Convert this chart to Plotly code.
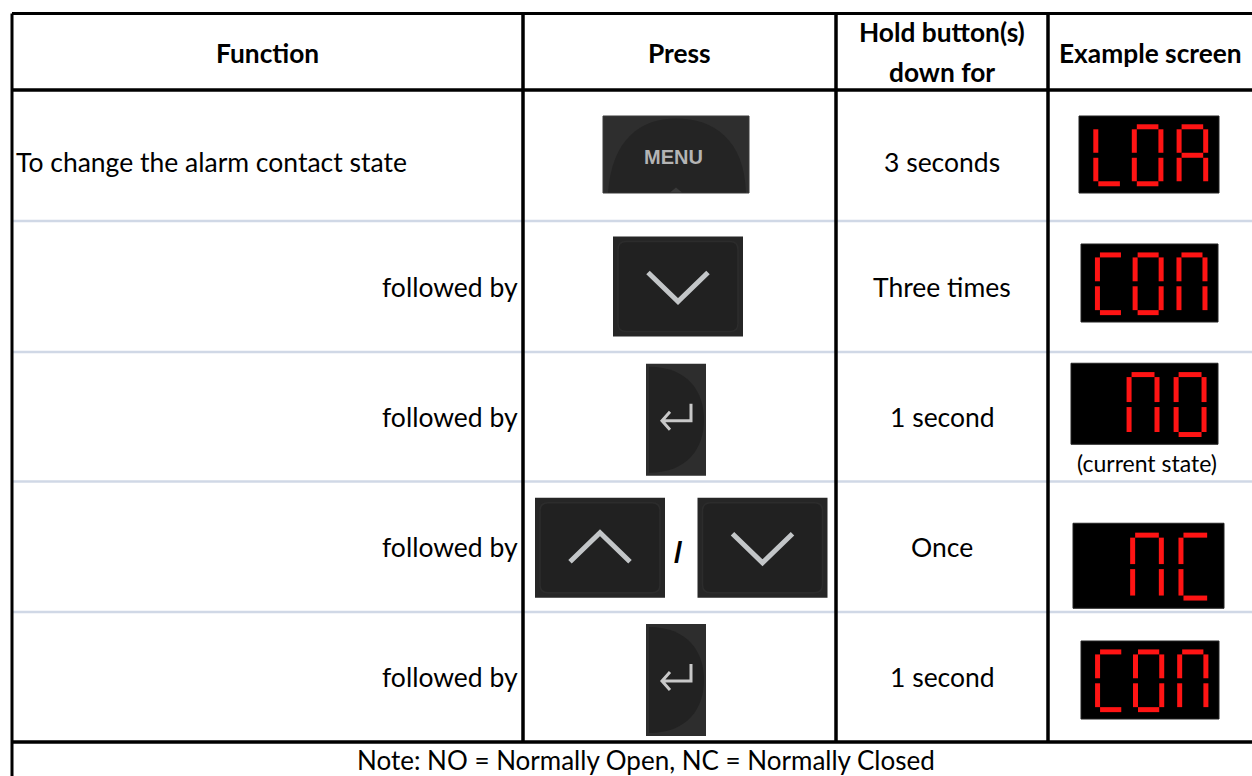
import plotly.graph_objects as go

# ---------------- table content ----------------
headers = ["Function", "Press", "Hold button(s)", "down for", "Example screen"]
functions = ["To change the alarm contact state", "followed by", "followed by",
             "followed by", "followed by"]
presses = ["MENU", "DOWN", "ENTER", "UP/DOWN", "ENTER"]
hold_times = ["3 seconds", "Three times", "1 second", "Once", "1 second"]
screens = ["LOA", "CON", " NO", " NC", "CON"]
screen_captions = ["", "", "(current state)", "", ""]
note = "Note: NO = Normally Open, NC = Normally Closed"

# ---------------- geometry / style ----------------
W, H = 1252, 776
col_edges = [12, 523, 836, 1048, 1264]
row_edges = [13.5, 90, 221, 352, 481.5, 612, 742]
FONT = "Lato"
FS = 26.5
HFS = 26.3
TEXT_DY = 0
ROW1_DY = 6

# screen box sizes (w, h) and centre offsets (dx, dy) per row
screen_boxes = [(140, 77, 1, -1), (137, 78, 1.5, -3.5), (147, 81, -3.5, -13),
                (151, 85, 0.5, 19), (138, 78, 2, 3)]

SEG = {'L': 'def', 'O': 'abcdef', 'A': 'abcefg', 'C': 'adef', 'N': 'abcef', ' ': ''}

shapes = []
annotations = []


def line(x0, y0, x1, y1, color="black", width=3):
    shapes.append(dict(type="line", xref="x", yref="y", x0=x0, y0=y0, x1=x1, y1=y1,
                       line=dict(color=color, width=width)))


def rect(x0, y0, x1, y1, fill, lc=None, lw=0):
    shapes.append(dict(type="rect", xref="x", yref="y", x0=x0, y0=y0, x1=x1, y1=y1,
                       fillcolor=fill, line=dict(color=lc or fill, width=lw)))


def path(d, fill, lc=None, lw=0):
    shapes.append(dict(type="path", xref="x", yref="y", path=d, fillcolor=fill,
                       line=dict(color=lc or fill, width=lw)))


def text(x, y, s, size=FS, bold=False, xanchor="center", family=FONT, color="black"):
    annotations.append(dict(x=x, y=y, xref="x", yref="y", text=f"<b>{s}</b>" if bold else s,
                            showarrow=False, xanchor=xanchor, yanchor="middle",
                            font=dict(family=family, size=size, color=color)))


def chevron(cx, cy, up):
    s = -1 if up else 1
    pts = [(cx - 30, cy - s * 14), (cx, cy + s * 15), (cx + 30, cy - s * 14)]
    d = f"M {pts[0][0]},{pts[0][1]} L {pts[1][0]},{pts[1][1]} L {pts[2][0]},{pts[2][1]}"
    shapes.append(dict(type="path", xref="x", yref="y", path=d,
                       line=dict(color="#c3c6c8", width=5)))


def arrow_button(cx, cy, up):
    rect(cx - 65, cy - 50, cx + 65, cy + 50, "#262626")
    x0, y0, x1, y1, r = cx - 60, cy - 45, cx + 60, cy + 45, 8
    d = (f"M {x0+r},{y0} L {x1-r},{y0} Q {x1},{y0} {x1},{y0+r} L {x1},{y1-r} "
         f"Q {x1},{y1} {x1-r},{y1} L {x0+r},{y1} Q {x0},{y1} {x0},{y1-r} "
         f"L {x0},{y0+r} Q {x0},{y0} {x0+r},{y0} Z")
    path(d, "#212121", "#2c2c2c", 1.5)
    chevron(cx, cy, up)


def enter_button(cx, cy):
    rect(cx - 30, cy - 56, cx + 30, cy + 56, "#2d2d2d")
    d = (f"M {cx-27},{cy-53} C {cx+12},{cy-53} {cx+28},{cy-28} {cx+28},{cy} "
         f"C {cx+28},{cy+28} {cx+12},{cy+53} {cx-27},{cy+53} Z")
    path(d, "#222222")
    d2 = (f"M {cx+15},{cy-16} L {cx+15},{cy+1} L {cx-14},{cy+1} "
          f"M {cx-6},{cy-8} L {cx-14},{cy+1} L {cx-6},{cy+10}")
    shapes.append(dict(type="path", xref="x", yref="y", path=d2,
                       line=dict(color="#c8c8c8", width=3)))


def menu_button(cx, cy):
    rect(cx - 73, cy - 38.5, cx + 73, cy + 38.5, "#2e2e2e", "#3a3a3a", 1)
    d = (f"M {cx-68},{cy+38} C {cx-64},{cy-15} {cx-36},{cy-36} {cx},{cy-36} "
         f"C {cx+38},{cy-36} {cx+68},{cy-15} {cx+70},{cy+38} Z")
    path(d, "#242424")
    path(f"M {cx-6},{cy+38} L {cx},{cy+33} L {cx+6},{cy+38} Z", "#3a3a3a")
    text(cx - 3, cy + 2, "<b>MENU</b>", size=20, family="Liberation Sans", color="#b4b4b4")


def seven_seg(x0, y0, w, h, chars):
    rect(x0, y0, x0 + w, y0 + h, "black", "#222222", 1)
    offs = [0.12, 0.395, 0.715]
    dw = 0.19 * w
    t, b = y0 + 0.14 * h, y0 + 0.88 * h
    m = (t + b) / 2
    g = 2.5
    for ch, o in zip(chars, offs):
        x = x0 + o * w
        segs = {
            'a': (x + g, t, x + dw - g, t), 'b': (x + dw, t + g, x + dw, m - g),
            'c': (x + dw, m + g, x + dw, b - g), 'd': (x + g, b, x + dw - g, b),
            'e': (x, m + g, x, b - g), 'f': (x, t + g, x, m - g),
            'g': (x + g, m, x + dw - g, m),
        }
        for s in SEG[ch]:
            line(*segs[s], color="#ff1414", width=5)


# ---------------- grid ----------------
left, right = col_edges[0], W
for y in row_edges[2:-1]:
    line(left, y, right, y, color="#d0d8e6", width=2.5)
line(left, row_edges[0], right, row_edges[0])
line(left, row_edges[1], right, row_edges[1], width=3.5)
line(left, row_edges[-1], right, row_edges[-1], width=3.5)
line(left, row_edges[0], left, H)
for x in col_edges[1:-1]:
    line(x, row_edges[0], x, row_edges[-1], width=3.5)

cx = [(col_edges[i] + col_edges[i + 1]) / 2 for i in range(4)]
hy = (row_edges[0] + row_edges[1]) / 2

# ---------------- header ----------------
text(cx[0], hy + 1, headers[0], size=HFS, bold=True)
text(cx[1], hy + 1, headers[1], size=HFS, bold=True)
text(cx[2], hy - 20, headers[2], size=HFS, bold=True)
text(cx[2], hy + 20, headers[3], size=HFS, bold=True)
text(cx[3] - 6, hy + 1, headers[4], size=HFS, bold=True)

# ---------------- body ----------------
for i in range(5):
    ry = (row_edges[i + 1] + row_edges[i + 2]) / 2
    dy = ROW1_DY if i == 0 else TEXT_DY
    if i == 0:
        text(col_edges[0] + 2, ry + dy, functions[i], xanchor="left")
    else:
        text(col_edges[1] - 3, ry + dy, functions[i], xanchor="right")
    text(cx[2], ry + dy, hold_times[i])

    p = presses[i]
    pcx = cx[1]
    if p == "MENU":
        menu_button(pcx - 3.5, ry - 1)
    elif p == "DOWN":
        arrow_button(pcx - 1.5, ry, up=False)
    elif p == "ENTER":
        enter_button(pcx - 3.5, ry + 3)
    elif p == "UP/DOWN":
        arrow_button(pcx - 79.5, ry + 1, up=True)
        arrow_button(pcx + 83, ry + 1, up=False)
        text(pcx - 1, ry + 6, "<b>/</b>", size=30, family="Liberation Sans")

    bw, bh, bdx, bdy = screen_boxes[i]
    scx, scy = cx[3] + bdx - 8, ry + bdy
    seven_seg(scx - bw / 2, scy - bh / 2, bw, bh, screens[i])
    if screen_captions[i]:
        text(scx + 2, scy + bh / 2 + 19, screen_captions[i], size=23)

# ---------------- note ----------------
text(646, 760, note, size=26)

fig = go.Figure()
fig.add_trace(go.Scatter(x=[0, W], y=[0, H], mode="markers",
                         marker=dict(opacity=0), hoverinfo="skip", showlegend=False))
fig.update_layout(
    width=W, height=H, margin=dict(l=0, r=0, t=0, b=0),
    paper_bgcolor="white", plot_bgcolor="white",
    xaxis=dict(range=[0, W], visible=False, fixedrange=True),
    yaxis=dict(range=[H, 0], visible=False, fixedrange=True),
    shapes=shapes, annotations=annotations, showlegend=False,
)
fig.write_html("out.html", config={"displayModeBar": False},
               post_script="document.body.style.margin='0';document.body.style.overflow='hidden';")
